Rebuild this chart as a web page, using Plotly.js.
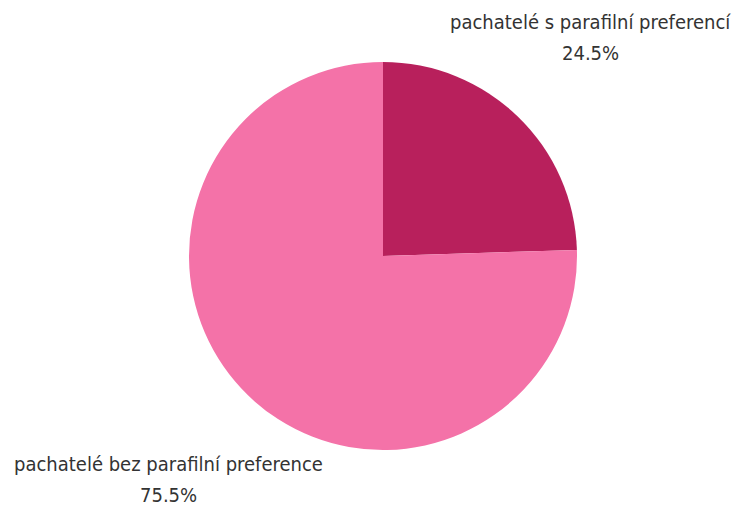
<!DOCTYPE html>
<html><head><meta charset="utf-8">
<script src="https://cdn.plot.ly/plotly-3.0.1.min.js"></script>
<style>html,body{margin:0;padding:0;background:#fff;}</style>
</head><body>
<div id="chart" style="width:740px;height:507px;"></div>
<script>
const labels = ["pachatelé s parafilní preferencí", "pachatelé bez parafilní preference"];
const values = [24.5, 75.5];
const colors = ["#B8205C", "#F472A8"];

const font = {family: "Liberation Sans Narrow, DejaVu Sans Condensed, sans-serif", size: 20, color: "#333333"};
const labelPos = [{x: 590, y: 22}, {x: 168, y: 464}];
const annotations = [];
labels.forEach((lab, i) => {
  annotations.push({text: lab, x: labelPos[i].x, y: labelPos[i].y, xref: "paper", yref: "paper",
    showarrow: false, font: font, xanchor: "center", yanchor: "middle", borderpad: 0});
  annotations.push({text: values[i].toFixed(1) + "%", x: labelPos[i].x, y: labelPos[i].y + 31, xref: "paper", yref: "paper",
    showarrow: false, font: font, xanchor: "center", yanchor: "middle", borderpad: 0});
});
// convert pixel positions to paper coordinates
const W = 740, H = 507, m = {l: 26, r: 0, t: 62, b: 57};
const pw = W - m.l - m.r, ph = H - m.t - m.b;
annotations.forEach(a => { a.x = (a.x - m.l) / pw; a.y = (H - m.b - a.y) / ph; });

Plotly.newPlot("chart", [{
  type: "pie", labels: labels, values: values, sort: false, direction: "clockwise", rotation: 0,
  marker: {colors: colors, line: {width: 0}}, textinfo: "none", hoverinfo: "label+percent"
}], {
  width: W, height: H, margin: m, showlegend: false,
  paper_bgcolor: "#ffffff", plot_bgcolor: "#ffffff", annotations: annotations
}, {displayModeBar: false});
</script>
</body></html>
